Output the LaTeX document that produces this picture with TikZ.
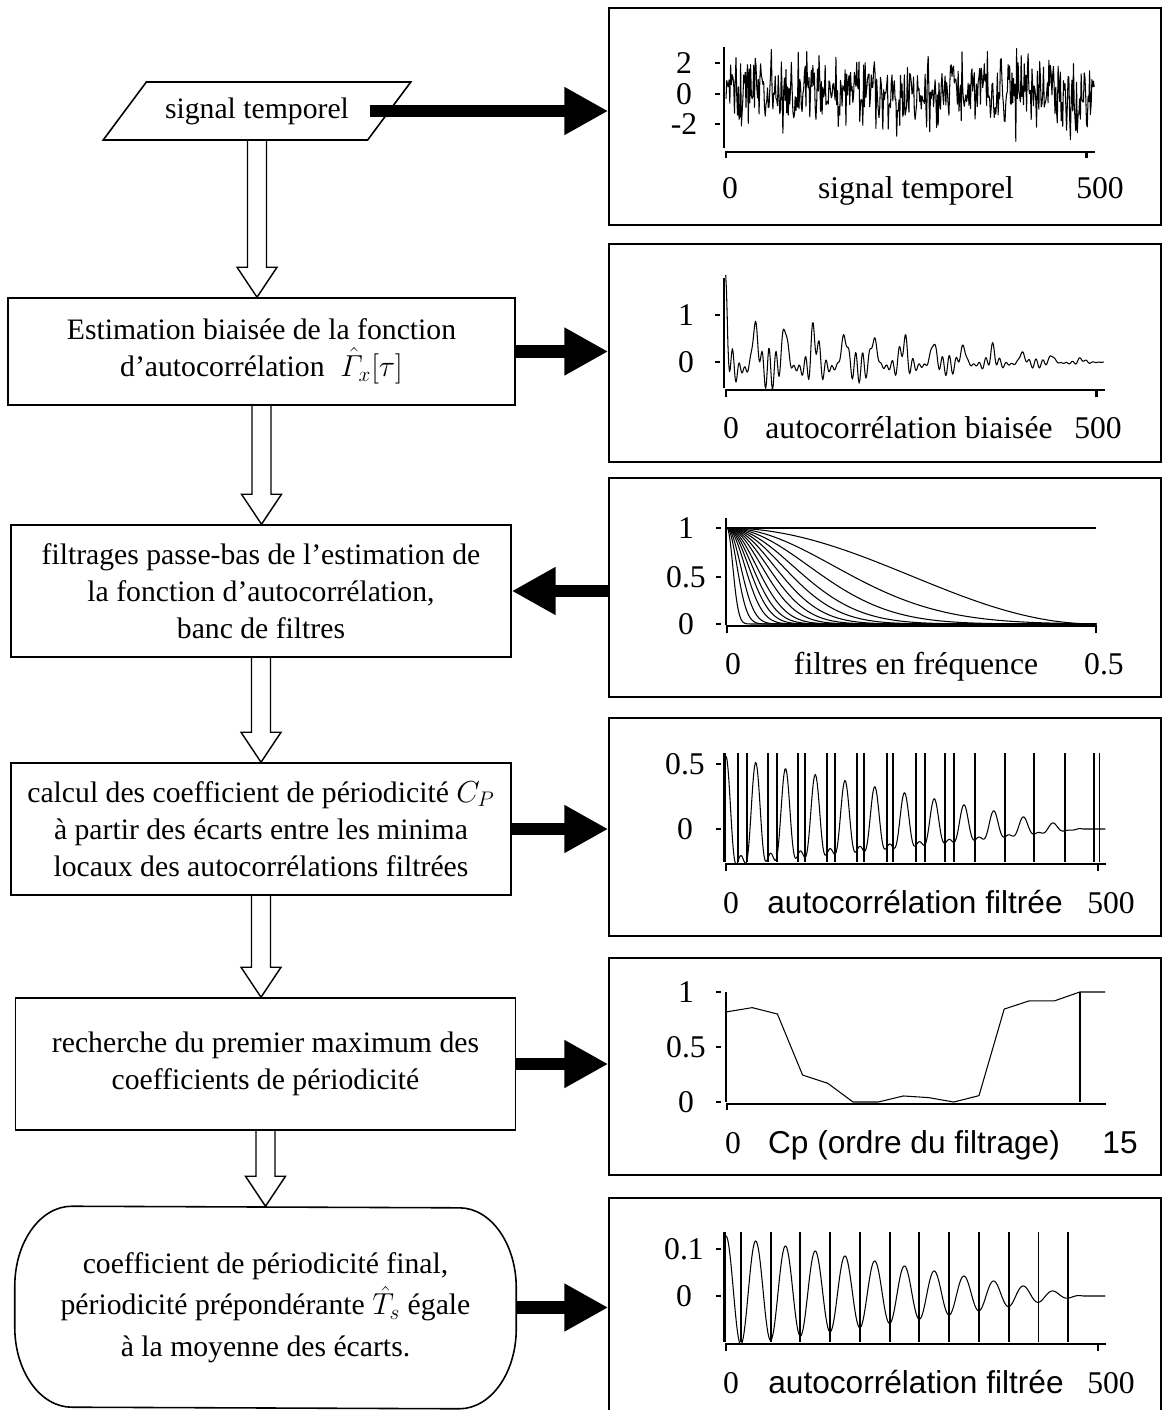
\documentclass[tikz,border=0pt]{standalone}
\usepackage{fontspec}
\setmainfont{Liberation Serif}
\newfontfamily\arialf{Liberation Sans}
\usetikzlibrary{arrows.meta,shapes.geometric,calc}

\newcommand{\boxfont}{\fontsize{16.9}{21}\selectfont}
\newcommand{\finfont}{\fontsize{16.9}{23.5}\selectfont}
\newcommand{\plotfont}{\fontsize{18}{20}\selectfont}

\begin{document}
\begin{tikzpicture}[x=0.02cm,y=-0.02cm,
  procbox/.style={draw,line width=0.9pt,minimum width=10cm,align=center,font=\boxfont,inner sep=0pt},
  panel/.style={draw,line width=0.9pt,minimum width=11.04cm,inner sep=0pt},
  bigarrow/.style={line width=0.25cm,-{Triangle[length=0.88cm,width=0.9cm]}},
  hollow/.style={line width=0.8pt,to path={let \p1=(\tikztostart),\p2=(\tikztotarget) in
    (\x1-0.19cm,\y1) -- (\x1-0.19cm,\y2+0.6cm) -- (\x1-0.4cm,\y2+0.6cm) -- (\x1,\y2)
    -- (\x1+0.4cm,\y2+0.6cm) -- (\x1+0.19cm,\y2+0.6cm) -- (\x1+0.19cm,\y1)}},
  axline/.style={line width=1.3pt},
  sigline/.style={line width=0.6pt,line join=round},
  lbl/.style={font=\plotfont,inner sep=0pt},
  xlbl/.style={font=\plotfont,inner sep=0pt,anchor=base}]
\useasboundingbox (0,0) rectangle (1163,1410);

% chaine de traitement
\node[trapezium,trapezium left angle=37,trapezium right angle=143,trapezium stretches=true,draw,line width=0.9pt,
  minimum width=6.16cm,minimum height=1.16cm,font=\boxfont,inner sep=0pt] (sig) at (257,111) {signal temporel};
\node[procbox,minimum width=10.14cm,minimum height=2.14cm] (est) at (261.5,351.5)
  {Estimation biaisée de la fonction\\d’autocorrélation\; $\hat{\mathnormal{\Gamma}}_x\bigl[\tau\bigr]$};
\node[procbox,minimum height=2.64cm] (filt) at (261,591)
  {filtrages passe-bas de l’estimation de\\la fonction d’autocorrélation,\\banc de filtres};
\node[procbox,minimum height=2.64cm] (coef) at (261,829)
  {calcul des coefficient de périodicité $C_P$\\à partir des écarts entre les minima\\locaux des autocorrélations filtrées};
\node[procbox,minimum height=2.64cm] (rech) at (265.5,1064)
  {recherche du premier maximum des\\coefficients de périodicité};
\node[procbox,draw=none,minimum height=4.02cm,font=\finfont] (fin) at (265.5,1307.5)
  {coefficient de périodicité final,\\périodicité prépondérante $\hat{T}_s$ égale\\à la moyenne des écarts.};
\draw[line width=0.9pt] ($(fin.north west)+(1.14cm,0)$) arc[start angle=90,end angle=180,x radius=1.14cm,y radius=1.6cm]
  -- ++(0,-0.82cm) arc[start angle=180,end angle=270,x radius=1.14cm,y radius=1.6cm]
  -- ($(fin.south east)+(-1.14cm,0)$) arc[start angle=270,end angle=360,x radius=1.14cm,y radius=1.6cm]
  -- ++(0,0.82cm) arc[start angle=0,end angle=90,x radius=1.14cm,y radius=1.6cm] -- cycle;

\draw[hollow] (sig.south) to (est.north);
\draw[hollow] (est.south) to (filt.north);
\draw[hollow] (filt.south) to (coef.north);
\draw[hollow] (coef.south) to (rech.north);
\draw[hollow] (rech.south) to (fin.north);

% cadres des courbes
\node[panel,minimum height=4.34cm] (p1) at (885,116.5) {};
\node[panel,minimum height=4.36cm] (p2) at (885,353) {};
\node[panel,minimum height=4.38cm] (p3) at (885,587.5) {};
\node[panel,minimum height=4.36cm] (p4) at (885,827) {};
\node[panel,minimum height=4.34cm] (p5) at (885,1066.5) {};
\node[panel,minimum height=4.44cm] (p6) at (885,1309) {};

\draw[bigarrow] ([xshift=-0.4cm]sig.right side) -- (sig.right side -| p1.west);
\draw[bigarrow] (est.east) -- (est.east -| p2.west);
\draw[bigarrow] (p3.west |- filt.east) -- (filt.east);
\draw[bigarrow] (coef.east) -- (coef.east -| p4.west);
\draw[bigarrow] (rech.east) -- (rech.east -| p5.west);
\draw[bigarrow] (fin.east) -- (fin.east -| p6.west);

% signal temporel
\draw[axline] (724,47) -- (724,148);
\draw[axline] (726,158) -- (726,152) -- (1095,152);
\draw[axline] (1086.5,152) -- (1086.5,158);
\foreach \v/\y [count=\i] in {2/63,0/94,-2/124}{
  \draw[axline] (715,\y) -- (720,\y);
  \node[lbl] (a\i) at (684,\y) {\v};
}
\node[xlbl] (ax0) at (730,198) {0};
\node[xlbl] (axt) at (916,198) {signal temporel};
\node[xlbl] (ax5) at (1100,198) {500};
\begin{scope}[shift={(726,94)},xscale=0.722,yscale=-15]
\pgfmathsetseed{7}
\draw[sigline] plot[domain=0:510,samples=480,variable=\t] (\t,{1.2*(rand+rand+rand)});
\end{scope}

% autocorrelation biaisee
\draw[axline] (724,278) -- (724,388);
\draw[axline] (725.7,397) -- (725.7,390) -- (1104.6,390);
\draw[axline] (1096.5,390) -- (1096.5,397);
\foreach \v/\y [count=\i] in {1/315,0/362}{
  \draw[axline] (715,\y) -- (720,\y);
  \node[lbl] (b\i) at (686,\y) {\v};
}
\node[xlbl] (bx0) at (731,438) {0};
\node[xlbl] (bxt) at (909,438) {autocorrélation biaisée};
\node[xlbl] (bx5) at (1098,438) {500};
\begin{scope}[shift={(725.7,362)},xscale=0.7416,yscale=-47]
\draw[sigline] plot[domain=0:510,samples=511,variable=\t] (\t,{0.5*max(0,1-\t/3)+(1-\t/520)*(1.0*exp(-((mod(\t+20,40)-20)/5.5)^2)-0.17+0.22*cos(37*mod(\t,360))+0.2*cos(43*mod(\t,360))+0.1*cos(31*mod(\t,360)))});
\end{scope}

% filtres en frequence
\draw[axline] (725.7,518) -- (725.7,625);
\draw[axline] (727,633) -- (727,626) -- (1097,626);
\draw[axline] (1096,626) -- (1096,633);
\foreach \v/\y [count=\i] in {1/528,0.5/577,0/624}{
  \draw[axline] (716,\y) -- (721,\y);
  \node[lbl] (c\i) at (686,\y) {\v};
}
\node[xlbl] (cx0) at (733,674) {0};
\node[xlbl] (cxt) at (916,674) {filtres en fréquence};
\node[xlbl] (cx5) at (1104,674) {0.5};
\begin{scope}[shift={(727,624)},xscale=0.738,yscale=-96]
\draw[sigline] (0,1) -- (500,1);
\draw[sigline] plot[domain=0:500,samples=120,variable=\t] (\t,{cos(0.18*\t)*cos(0.18*\t)});
\foreach \s in {204,156,126,106,90,77,66,56,48,41,34,26,19,11}{
  \pgfmathsetmacro\dmax{min(500,3.5*\s)}
  \draw[sigline] plot[domain=0:\dmax,samples=80,variable=\t] (\t,{exp(-(\t/\s)*(\t/\s))}) -- (500,0);
}
\end{scope}

% autocorrelation filtree
\draw[axline] (724.6,753) -- (724.6,862);
\draw[axline] (726,871) -- (726,864) -- (1106,864);
\draw[axline] (1098,864) -- (1098,871);
\foreach \v/\y [count=\i] in {0.5/764,0/829}{
  \draw[axline] (716,\y) -- (721,\y);
  \node[lbl] (d\i) at (685,\y) {\v};
}
\node[xlbl] (dx0) at (731,913) {0};
\node[xlbl,font=\plotfont\arialf] (dxt) at (915,913) {autocorrélation filtrée};
\node[xlbl] (dx5) at (1111,913) {500};
\begin{scope}[shift={(726,829)},xscale=0.744,yscale=-130]
\foreach \xm in {15.5,28,56,68,97,106,136,146.5,176,186,216,225,255,267,294,307,335,375,414,456,494,502}
  \draw[line width=1.1pt] (\xm,0.585) -- (\xm,-0.254);
\draw[sigline] plot[domain=0:510,samples=400,variable=\t] (\t,{max(0,1-\t/480)*0.56*(cos(9*\t)+0.45*cos(18*\t))/1.45});
\end{scope}

% coefficients de periodicite
\draw[axline] (725.7,992) -- (725.7,1102);
\draw[axline] (727,1110) -- (727,1104) -- (1106,1104);
\foreach \v/\y [count=\i] in {1/992,0.5/1047,0/1102}{
  \draw[axline] (716,\y) -- (721,\y);
  \node[lbl] (e\i) at (686,\y) {\v};
}
\node[xlbl] (ex0) at (733,1153) {0};
\node[xlbl,font=\plotfont\arialf] (ext) at (914,1153) {Cp (ordre du filtrage)};
\node[xlbl,font=\plotfont\arialf] (ex5) at (1120,1153) {15};
\begin{scope}[shift={(727,1102)},xscale=25.2,yscale=-110]
\draw[sigline] plot coordinates {(0,0.82) (1,0.858) (2,0.8) (3,0.245) (4,0.17) (5,0) (6,0) (7,0.055)
  (8,0.04) (9,0) (10,0.058) (11,0.845) (12,0.92) (13,0.92) (14,1) (15,1)};
\draw[line width=1.1pt] (14,0) -- (14,1);
\end{scope}

% autocorrelation filtree finale
\draw[axline] (724.6,1232) -- (724.6,1342);
\draw[axline] (726,1351) -- (726,1344) -- (1106,1344);
\draw[axline] (1098,1344) -- (1098,1351);
\foreach \v/\y [count=\i] in {0.1/1249,0/1296}{
  \draw[axline] (716,\y) -- (721,\y);
  \node[lbl] (f\i) at (684,\y) {\v};
}
\node[xlbl] (fx0) at (731,1393) {0};
\node[xlbl,font=\plotfont\arialf] (fxt) at (916,1393) {autocorrélation filtrée};
\node[xlbl] (fx5) at (1111,1393) {500};
\begin{scope}[shift={(726,1296)},xscale=0.744,yscale=-470]
\foreach \xm in {20,60,100,140,180,220,260,300,340,380,420,460}
  \draw[line width=1.1pt] (\xm,0.136) -- (\xm,-0.098);
\draw[sigline] plot[domain=0:510,samples=400,variable=\t] (\t,{max(0,1-\t/480)*(0.118*cos(9*\t)+0.01)});
\end{scope}
\end{tikzpicture}
\end{document}
